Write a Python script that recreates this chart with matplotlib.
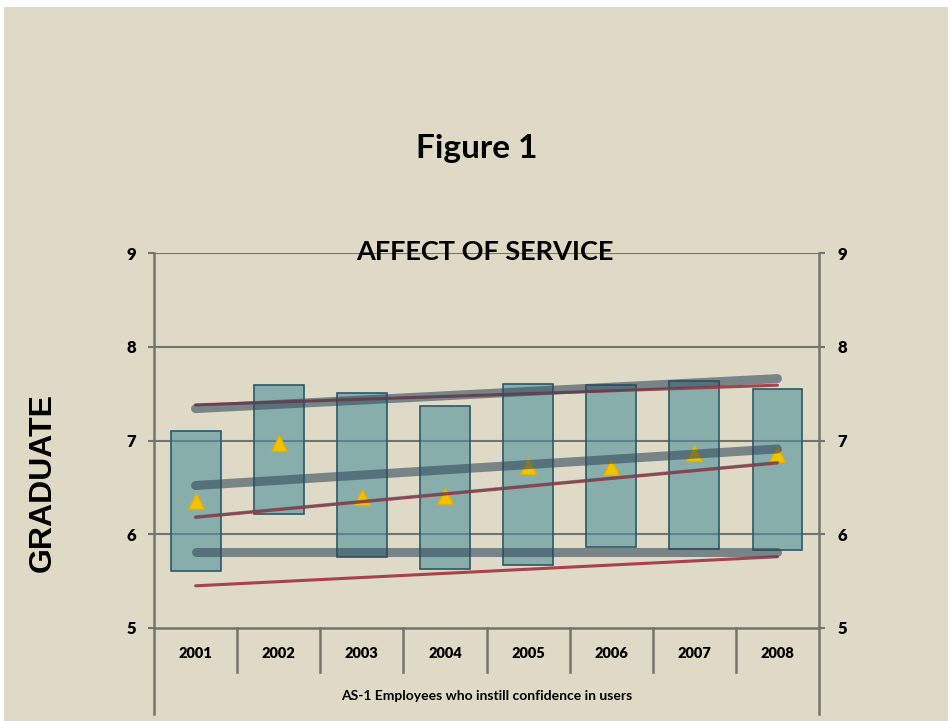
import numpy as np
import matplotlib
matplotlib.use("Agg")
import matplotlib.pyplot as plt
from matplotlib.patches import Rectangle

# ---------------------------------------------------------------------------
# DATA
# ---------------------------------------------------------------------------
years = ['2001', '2002', '2003', '2004', '2005', '2006', '2007', '2008']
range_low = [5.61, 6.22, 5.76, 5.63, 5.67, 5.86, 5.84, 5.83]
range_high = [7.10, 7.59, 7.51, 7.37, 7.60, 7.59, 7.63, 7.55]
means = [6.35, 6.97, 6.40, 6.41, 6.73, 6.72, 6.87, 6.86]

# trend lines: value at 2001 and value at 2008
trend_gray_upper = [7.34, 7.66]
trend_gray_mid = [6.52, 6.91]
trend_gray_low = [5.81, 5.81]
trend_red_upper = [7.38, 7.59]
trend_red_mid = [6.18, 6.76]
trend_red_low = [5.45, 5.76]

BG = '#dedac5'
AXIS_GRAY = '#737370'
FONT = 'Lato'

# ---------------------------------------------------------------------------
# FIGURE
# ---------------------------------------------------------------------------
W, H = 952, 721
fig = plt.figure(figsize=(W / 100, H / 100), dpi=100, facecolor='white')
fig.patches.append(Rectangle((4 / W, 0), 944 / W, 714 / H, transform=fig.transFigure,
                             facecolor=BG, edgecolor='none', zorder=-5))

ax = fig.add_axes([154 / W, 93 / H, 665 / W, 375 / H])
ax.set_zorder(2)
ax.set_facecolor('none')
ax.set_xlim(-0.5, 7.5)
ax.set_ylim(5, 9)

x = np.arange(len(years))

# floating range bars
ax.bar(x, np.array(range_high) - np.array(range_low), bottom=range_low, width=0.6,
       facecolor=(0.31, 0.57, 0.61, 0.6), edgecolor='#2c5868', linewidth=1.2, zorder=3)

# means
ax.plot(x, means, linestyle='none', marker='^', markersize=11,
        color='#f2c200', markeredgecolor='#e0b000', zorder=4)

# trend lines
xe = [x[0], x[-1]]
for vals in (trend_red_upper, trend_red_mid, trend_red_low):
    ax.plot(xe, vals, color='#a3313f', linewidth=2.2, alpha=0.9,
            solid_capstyle='round', zorder=5)
ax.plot(xe, [trend_red_mid[0] + 0.01, trend_red_mid[1] + 0.01], color='#4a5868',
        linewidth=1.6, alpha=0.55, solid_capstyle='round', zorder=6)
for vals in (trend_gray_upper, trend_gray_mid, trend_gray_low):
    ax.plot(xe, vals, color='#30475a', linewidth=6.5, alpha=0.58,
            solid_capstyle='round', zorder=6)

# grid and frame
for yv in (6, 7, 8, 9):
    ax.axhline(yv, color=AXIS_GRAY, linewidth=1.5, zorder=1)
for s in ax.spines.values():
    s.set_visible(False)
y_bottom = 5 - 86 / 93.75
for xv in (-0.5, 7.5):
    ax.plot([xv, xv], [y_bottom, 9], color=AXIS_GRAY, linewidth=1.8,
            clip_on=False, zorder=2)
ax.plot([-0.5, 7.5], [5, 5], color=AXIS_GRAY, linewidth=1.8, clip_on=False, zorder=2)
for xv in np.arange(0.5, 7.5, 1.0):
    ax.plot([xv, xv], [5, 5 - 44 / 93.75], color=AXIS_GRAY, linewidth=1.8,
            clip_on=False, zorder=2)

# ticks
ax.set_yticks([5, 6, 7, 8, 9])
ax.tick_params(axis='y', which='both', left=True, right=True, labelleft=True,
               labelright=True, length=4, width=1.5, color=AXIS_GRAY, pad=9,
               labelsize=12)
ax.set_xticks(x)
ax.set_xticklabels(years)
ax.tick_params(axis='x', length=0, pad=14, labelsize=10.5)
for t in ax.yaxis.get_major_ticks() + ax.xaxis.get_major_ticks():
    for lab in (t.label1, t.label2):
        lab.set_fontfamily(FONT)
        lab.set_fontweight('heavy')

# texts
fig.text(477 / W, 1 - 158 / H, 'Figure 1', ha='center', va='baseline',
         fontsize=24, fontweight='bold', fontfamily=FONT)
fig.text(485 / W, 1 - 252 / H, 'AFFECT OF SERVICE', ha='center', va='center',
         fontsize=19.5, fontweight='bold', fontfamily=FONT, zorder=10)
fig.text(43 / W, 1 - 483 / H, 'GRADUATE', ha='center', va='center', rotation=90,
         fontsize=23, fontweight='bold', fontfamily='Liberation Sans')
fig.text(487 / W, 1 - 696 / H, 'AS-1 Employees who instill confidence in users',
         ha='center', va='center', fontsize=10, fontweight='bold', fontfamily=FONT)

fig.savefig('out.png', dpi=100, facecolor='white')
